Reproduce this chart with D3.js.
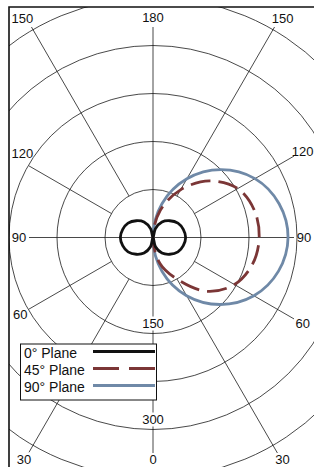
<!DOCTYPE html>
<html><head><meta charset="utf-8">
<script src="https://cdn.jsdelivr.net/npm/d3@7"></script>
<style>
body{margin:0;background:#fff}
svg{display:block}
text{font-family:"Liberation Sans",Arial,Helvetica,sans-serif;fill:#111}
</style>
</head><body>
<svg id="c" width="314" height="467"></svg>
<script>
// ---- data (angle in degrees, 0 at bottom, 90 to the right) ----
const thetas  = [0, 15, 30, 45, 60, 75, 90, 105, 120, 135, 150, 165, 180];
const plane0  = [0, 15, 28, 37, 45, 49, 51, 49, 45, 37, 28, 14, 0];
const plane45 = [0, 42, 75, 119, 147, 161, 166, 164, 153, 125, 86, 44, 0];
const plane90 = [0, 55, 105, 148, 182, 203, 211, 204, 184, 150, 106, 55, 0];
const ringValues  = [75, 150, 225, 300, 375];
const ringLabels  = [150, 300];
const spokeAngles = [0, 30, 60, 90, 120, 150, 180];
const seriesNames  = ["0° Plane", "45° Plane", "90° Plane"];
const seriesColors = ["#111111", "#7b3636", "#6f89a7"];

// ---- layout ----
const W = 314, H = 467, cx = 153, cy = 237.5;
const frame = {x: 9, y: 7};
const inner = {x0: 29, x1: 294, y0: 27, y1: 453};
const r = d3.scaleLinear().domain([0, 375]).range([0, 240]);
const rad = d => d * Math.PI / 180;

const svg = d3.select("#c");
svg.append("defs").append("clipPath").attr("id", "clip")
  .append("rect").attr("x", frame.x).attr("y", frame.y).attr("width", 400).attr("height", 500);

const grid = svg.append("g").attr("clip-path", "url(#clip)");

// rings
grid.selectAll("circle.ring").data(ringValues).join("circle")
  .attr("class", "ring")
  .attr("cx", cx).attr("cy", cy).attr("r", d => r(d))
  .attr("fill", "none").attr("stroke", "#1a1a1a").attr("stroke-width", 0.8);

// spokes
function rayEnd(dx, dy) {
  let t = Infinity;
  if (dx > 1e-9) t = Math.min(t, (inner.x1 - cx) / dx);
  if (dx < -1e-9) t = Math.min(t, (inner.x0 - cx) / dx);
  if (dy > 1e-9) t = Math.min(t, (inner.y1 - cy) / dy);
  if (dy < -1e-9) t = Math.min(t, (inner.y0 - cy) / dy);
  return t;
}
const spokes = [];
spokeAngles.forEach(a => {
  [1, -1].forEach(side => {
    if (side === -1 && (a === 0 || a === 180)) return;
    const dx = side * Math.sin(rad(a)), dy = Math.cos(rad(a));
    const t1 = rayEnd(dx, dy);
    const t0 = (a % 90 === 0) ? 0 : r(ringValues[0]);
    spokes.push({a, side, dx, dy, t0, t1});
  });
});
grid.selectAll("line.spoke").data(spokes).join("line")
  .attr("class", "spoke")
  .attr("x1", d => cx + d.dx * d.t0).attr("y1", d => cy + d.dy * d.t0)
  .attr("x2", d => cx + d.dx * d.t1).attr("y2", d => cy + d.dy * d.t1)
  .attr("stroke", "#1a1a1a").attr("stroke-width", 0.8);

// angle labels (kept inside the picture)
function labelPos(d) {
  let x = cx + d.dx * (d.t1 + 10), y = cy + d.dy * (d.t1 + 10);
  if (d.a === 120 && d.side === -1) { x += 2; y -= 7; }
  if (d.a === 150 && d.side === -1) { x -= 4; }
  if (d.a === 150 && d.side === 1) { x += 3; }
  y = Math.min(y, H - 7.5);
  return [x, y];
}
svg.selectAll("text.ang").data(spokes).join("text")
  .attr("class", "ang")
  .attr("x", d => labelPos(d)[0])
  .attr("y", d => labelPos(d)[1])
  .attr("text-anchor", "middle").attr("dominant-baseline", "central")
  .attr("font-size", 13)
  .text(d => d.a);

// ring labels with white background
const rl = svg.selectAll("g.rl").data(ringLabels).join("g").attr("class", "rl")
  .attr("transform", d => `translate(${cx},${cy + r(d) - 10})`);
rl.append("rect").attr("x", -12).attr("y", -7).attr("width", 24).attr("height", 14).attr("fill", "#fff");
rl.append("text").attr("text-anchor", "middle").attr("dominant-baseline", "central")
  .attr("font-size", 13).text(d => d);

// ---- curves ----
const line = d3.lineRadial()
  .angle(d => Math.PI - rad(d.t))
  .radius(d => r(d.v))
  .curve(d3.curveCatmullRomClosed);

const right = vals => thetas.slice(0, -1).map((t, i) => ({t, v: vals[i]}));
const figure8 = thetas.map((t, i) => ({t, v: plane0[i]}))
  .concat(thetas.slice(1, -1).map((t, i) => ({t: 360 - thetas[thetas.length - 2 - i], v: plane0[thetas.length - 2 - i]})));

const curves = svg.append("g").attr("transform", `translate(${cx},${cy})`);
curves.append("path").attr("d", line(right(plane90)))
  .attr("fill", "none").attr("stroke", seriesColors[2]).attr("stroke-width", 2.8);
curves.append("path").attr("d", line(right(plane45)))
  .attr("fill", "none").attr("stroke", seriesColors[1]).attr("stroke-width", 2.8)
  .attr("stroke-dasharray", "20,8");
curves.append("path").attr("d", line(figure8))
  .attr("fill", "none").attr("stroke", seriesColors[0]).attr("stroke-width", 2.8);

// ---- frame ----
svg.append("path").attr("d", `M${frame.x},${H + 5}V${frame.y}H${W + 5}`)
  .attr("fill", "none").attr("stroke", "#111").attr("stroke-width", 1.6);

// ---- legend ----
const lg = svg.append("g");
lg.append("rect").attr("x", 20.5).attr("y", 344).attr("width", 136).attr("height", 56)
  .attr("fill", "#fff").attr("stroke", "#111").attr("stroke-width", 1);
const dashes = [null, "26,10", null];
seriesNames.forEach((n, i) => {
  const base = 357.5 + i * 17;
  lg.append("text").attr("x", 24).attr("y", base).attr("font-size", 14).text(n);
  lg.append("line").attr("x1", 93).attr("x2", 155).attr("y1", base - 6).attr("y2", base - 6)
    .attr("stroke", seriesColors[i]).attr("stroke-width", 3)
    .attr("stroke-dasharray", dashes[i]);
});
</script>
</body></html>
